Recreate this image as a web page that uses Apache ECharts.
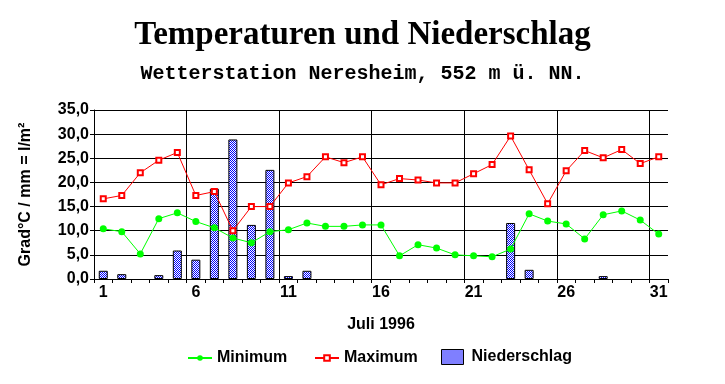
<!DOCTYPE html>
<html>
<head>
<meta charset="utf-8">
<script src="https://cdn.jsdelivr.net/npm/echarts@6/dist/echarts.min.js"></script>
<style>
html,body{margin:0;padding:0;background:#fff;}
#chart{width:725px;height:384px;}
</style>
</head>
<body>
<div id="chart"></div>
<script>
var days = ['1','2','3','4','5','6','7','8','9','10','11','12','13','14','15','16','17','18','19','20','21','22','23','24','25','26','27','28','29','30','31'];
var minimum = [10.4,9.8,5.2,12.5,13.7,11.9,10.6,8.5,7.5,9.8,10.2,11.6,10.9,10.9,11.2,11.2,4.8,7.1,6.4,5.0,4.8,4.6,6.2,13.5,12.0,11.4,8.3,13.3,14.1,12.2,9.3];
var maximum = [16.6,17.3,22.0,24.6,26.2,17.3,18.1,10.0,15.0,15.0,19.9,21.2,25.3,24.1,25.3,19.5,20.8,20.5,19.9,19.9,21.8,23.7,29.6,22.6,15.6,22.4,26.6,25.1,26.8,23.9,25.3];
var niederschlag = [1.7,1.0,0,0.8,5.9,4.0,18.7,28.9,11.2,22.6,0.6,1.7,0,0,0,0,0,0,0,0,0,0,11.6,1.9,0,0,0,0.6,0,0,0];
var yTicks = [0,5,10,15,20,25,30,35];

var pc = document.createElement('canvas');
pc.width = 2; pc.height = 2;
var pctx = pc.getContext('2d');
pctx.fillStyle = '#ffffff'; pctx.fillRect(0,0,2,2);
pctx.fillStyle = '#0000ff'; pctx.fillRect(0,0,1,1); pctx.fillRect(1,1,1,1);
var pattern = {image: pc, repeat: 'repeat'};

var sans = 'Liberation Sans, Arial, sans-serif';
var labelFont = {fontFamily: sans, fontWeight: 'bold', fontSize: 16, color: '#000'};
var chart = echarts.init(document.getElementById('chart'), null, {renderer:'canvas'});
chart.setOption({
  animation: false,
  backgroundColor: '#ffffff',
  title: [
    {text: 'Temperaturen und Niederschlag', left: 'center', top: 14,
     textStyle: {fontFamily: 'Liberation Serif, Times New Roman, serif', fontWeight: 'bold', fontSize: 33, color: '#000'}},
    {text: 'Wetterstation Neresheim, 552 m ü. NN.', left: 'center', top: 59,
     textStyle: {fontFamily: 'Liberation Mono, Courier New, monospace', fontWeight: 'bold', fontSize: 20, color: '#000'}}
  ],
  legend: [
    {data: ['Minimum'], left: 187, top: 350, padding: 0, itemWidth: 24, itemHeight: 7, itemGap: 0,
     textStyle: labelFont},
    {data: ['Maximum'], left: 314, top: 350, padding: 0, itemWidth: 24, itemHeight: 7, itemGap: 0,
     textStyle: labelFont},
    {data: [{name: 'Niederschlag', icon: 'rect'}], left: 441, top: 349, padding: 0, itemWidth: 22, itemHeight: 15, itemGap: 0,
     itemStyle: {borderWidth: 1, borderColor: '#000'},
     textStyle: {fontFamily: sans, fontWeight: 'bold', fontSize: 16, color: '#000', padding: [0,0,0,3]}}
  ],
  grid: {left: 94, right: 57, top: 110, bottom: 105, containLabel: false},
  xAxis: {
    type: 'category', data: days, boundaryGap: true,
    name: 'Juli 1996', nameLocation: 'middle', nameGap: 38,
    nameTextStyle: labelFont,
    axisLine: {lineStyle: {color: '#000', width: 1}},
    axisTick: {show: true, length: 4, interval: 0, lineStyle: {color: '#000'}},
    axisLabel: {interval: function(i){ return i % 5 === 0; }, margin: 6,
      fontFamily: sans, fontWeight: 'bold', fontSize: 16, color: '#000'},
    splitLine: {show: true, showMinLine: false, showMaxLine: false,
      interval: function(i){ return i % 5 === 0; },
      lineStyle: {color: '#000', width: 1}}
  },
  yAxis: {
    type: 'value', min: yTicks[0], max: yTicks[yTicks.length-1], interval: 5,
    name: 'Grad°C / mm = l/m²', nameLocation: 'middle', nameGap: 60, nameRotate: 90,
    nameTextStyle: labelFont,
    axisLine: {show: true, lineStyle: {color: '#000', width: 1}},
    axisTick: {show: true, length: 4, lineStyle: {color: '#000'}},
    axisLabel: {margin: 5, fontFamily: sans, fontWeight: 'bold', fontSize: 16, color: '#000',
      formatter: function(v){ return v.toFixed(1).replace('.', ','); }},
    splitLine: {show: true, lineStyle: {color: '#000', width: 1}}
  },
  series: [
    {name: 'Niederschlag', type: 'bar', data: niederschlag.map(function(v){ return v === 0 ? '-' : v; }),
     barWidth: 9, z: 1,
     itemStyle: {color: pattern, borderColor: '#000', borderWidth: 1}},
    {name: 'Minimum', type: 'line', data: minimum, z: 3,
     symbol: 'circle', symbolSize: 7,
     lineStyle: {color: '#00ff00', width: 1},
     itemStyle: {color: '#00ff00', borderColor: '#00ff00', borderWidth: 0}},
    {name: 'Maximum', type: 'line', data: maximum, z: 3,
     symbol: 'emptyRect', symbolSize: 5,
     lineStyle: {color: '#ff0000', width: 1},
     itemStyle: {color: '#ff0000', borderColor: '#ff0000', borderWidth: 1}}
  ]
});
</script>
</body>
</html>
